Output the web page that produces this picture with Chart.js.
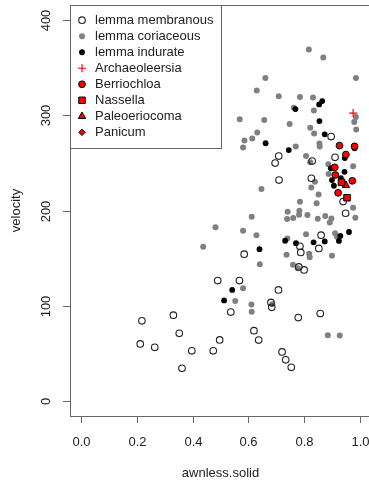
<!DOCTYPE html>
<html>
<head>
<meta charset="utf-8">
<script src="https://cdn.jsdelivr.net/npm/chart.js@4/dist/chart.umd.min.js"></script>
<style>
  html, body { margin: 0; padding: 0; background: #fff; overflow: hidden; }
  canvas { display: block; }
</style>
</head>
<body>
<canvas id="plot" width="369" height="487" style="width:369px;height:487px"></canvas>
<script>
// [awnless.solid, velocity] pairs per lemma type / genus
const membranous = [
  [0.897, 277.7], [0.709, 257.2], [0.911, 255.9], [0.829, 252.0], [0.696, 249.9],
  [0.710, 232.0], [0.826, 233.9], [0.940, 209.4], [0.949, 197.1], [0.861, 174.1],
  [0.785, 162.4], [0.853, 160.1], [0.788, 155.9], [0.585, 154.1], [0.781, 140.7],
  [0.800, 137.5], [0.490, 126.3], [0.568, 126.3], [0.708, 116.5], [0.681, 103.4],
  [0.684, 98.2], [0.537, 93.2], [0.331, 90.0], [0.218, 84.0], [0.779, 87.5],
  [0.858, 91.7], [0.352, 70.9], [0.620, 73.7], [0.212, 59.8], [0.264, 56.2],
  [0.497, 64.0], [0.637, 63.8], [0.397, 52.5], [0.474, 52.5], [0.721, 51.4],
  [0.734, 43.0], [0.754, 35.2], [0.362, 34.1]
];
const coriaceous = [
  [0.817, 369.3], [0.869, 360.9], [0.661, 339.4], [0.986, 339.4], [0.630, 326.2],
  [0.709, 320.2], [0.785, 319.2], [0.832, 318.8], [0.763, 308.1], [0.835, 305.2],
  [0.986, 298.2], [0.569, 295.9], [0.657, 295.0], [0.980, 292.9], [0.748, 290.8],
  [0.822, 287.1], [0.987, 285.2], [0.632, 281.9], [0.836, 281.0], [0.614, 275.8],
  [0.586, 273.5], [0.855, 270.3], [0.856, 267.2], [0.581, 266.1], [0.770, 267.4],
  [0.807, 257.2], [0.822, 250.6], [0.887, 248.6], [0.976, 246.5], [0.888, 238.3],
  [0.839, 230.2], [0.647, 222.6], [0.826, 224.1], [0.852, 216.8], [0.785, 209.1],
  [0.845, 207.6], [0.976, 202.8], [0.741, 198.7], [0.739, 191.1], [0.783, 199.8],
  [0.782, 195.6], [0.761, 192.1], [0.812, 195.3], [0.849, 191.3], [0.876, 194.2],
  [0.898, 191.6], [0.892, 187.4], [0.984, 192.4], [0.612, 193.5], [0.482, 182.5],
  [0.581, 178.7], [0.629, 174.1], [0.807, 175.0], [0.911, 176.1], [0.918, 172.5],
  [0.438, 162.0], [0.737, 153.6], [0.818, 154.6], [0.820, 150.9], [0.900, 152.4],
  [0.641, 143.6], [0.760, 143.1], [0.777, 139.3], [0.581, 118.4], [0.553, 104.8],
  [0.611, 101.1], [0.612, 93.6], [0.885, 69.0], [0.928, 68.5], [0.686, 101.5],
  [0.740, 170.6]
];
const indurate = [
  [0.865, 315.0], [0.854, 311.5], [0.769, 306.6], [0.855, 294.0], [0.874, 280.1],
  [0.662, 270.7], [0.745, 263.5], [0.981, 265.3], [0.946, 255.1], [0.896, 244.3],
  [0.945, 240.6], [0.932, 234.1], [0.900, 232.0], [0.907, 226.0], [0.961, 177.4],
  [0.930, 173.2], [0.925, 168.0], [0.732, 168.2], [0.771, 165.7], [0.834, 166.6],
  [0.874, 167.5], [0.640, 159.3], [0.542, 116.5], [0.513, 105.5]
];
const archaeoleersia = [[0.976, 302.4]];
const berriochloa = [
  [0.927, 268.2], [0.981, 267.4], [0.950, 258.8], [0.910, 245.4], [0.912, 237.3],
  [0.973, 231.2], [0.922, 218.6]
];
const nassella = [[0.934, 229.6], [0.954, 213.4]];
const paleoeriocoma = [[0.950, 226.5]];
const panicum = [];

const xTicks = [0, 0.2, 0.4, 0.6, 0.8, 1.0];
const xTickLabels = ['0.0', '0.2', '0.4', '0.6', '0.8', '1.0'];
const yTicks = [0, 100, 200, 300, 400];
const yTickLabels = ['0', '100', '200', '300', '400'];

// plotting region extends 4% past the 0..1 range, like R's default
const X_MIN = -0.04, X_MAX = 1.04;
const X_VISIBLE_MAX = 1.0293;   // what fits before the right edge of the canvas
const Y_MIN = -16, Y_MAX = 416;

const FONT = '13px "Liberation Sans", Arial, Helvetica, sans-serif';
const AXIS_COL = '#666';
const TEXT_COL = '#222';

function pts(arr) { return arr.map(p => ({ x: p[0], y: p[1] })); }

const datasets = [
  { label: 'Archaeoleersia', data: pts(archaeoleersia), order: 0,
    pointStyle: 'cross', pointRadius: 4, borderColor: '#ff0000', backgroundColor: '#ff0000', borderWidth: 1.2 },
  { label: 'Berriochloa', data: pts(berriochloa), order: 0,
    pointStyle: 'circle', pointRadius: 3.4, borderColor: '#000', backgroundColor: '#ff0000', borderWidth: 1 },
  { label: 'Nassella', data: pts(nassella), order: 0,
    pointStyle: 'rect', pointRadius: 4.6, borderColor: '#000', backgroundColor: '#ff0000', borderWidth: 1 },
  { label: 'Paleoeriocoma', data: pts(paleoeriocoma), order: 0,
    pointStyle: 'triangle', pointRadius: 4.3, borderColor: '#000', backgroundColor: '#ff0000', borderWidth: 1 },
  { label: 'Panicum', data: pts(panicum), order: 0,
    pointStyle: 'rectRot', pointRadius: 3.2, borderColor: '#000', backgroundColor: '#ff0000', borderWidth: 1 },
  { label: 'lemma membranous', data: pts(membranous), order: 1,
    pointStyle: 'circle', pointRadius: 3.3, borderColor: '#222', backgroundColor: 'rgba(0,0,0,0)', borderWidth: 1.1 },
  { label: 'lemma indurate', data: pts(indurate), order: 2,
    pointStyle: 'circle', pointRadius: 2.9, borderColor: '#000', backgroundColor: '#000', borderWidth: 0 },
  { label: 'lemma coriaceous', data: pts(coriaceous), order: 3,
    pointStyle: 'circle', pointRadius: 3, borderColor: '#808080', backgroundColor: '#808080', borderWidth: 0 }
];

// legend order as listed in the box
const legendOrder = ['lemma membranous', 'lemma coriaceous', 'lemma indurate',
  'Archaeoleersia', 'Berriochloa', 'Nassella', 'Paleoeriocoma', 'Panicum'];

// box, R-style axes, titles and legend
const baseGraphics = {
  id: 'baseGraphics',
  afterDraw(chart) {
    const ctx = chart.ctx;
    const area = chart.chartArea;
    const xs = chart.scales.x, ys = chart.scales.y;
    const boxRight = xs.getPixelForValue(X_MAX);
    ctx.save();
    ctx.strokeStyle = AXIS_COL;
    ctx.lineWidth = 1;
    ctx.strokeRect(area.left + 0.5, area.top + 0.5, boxRight - area.left, area.bottom - area.top);

    ctx.font = FONT;
    ctx.fillStyle = TEXT_COL;

    // x axis ticks + labels
    ctx.textAlign = 'center';
    ctx.textBaseline = 'middle';
    xTicks.forEach((v, i) => {
      const px = Math.round(xs.getPixelForValue(v)) + 0.5;
      ctx.beginPath();
      ctx.moveTo(px, area.bottom);
      ctx.lineTo(px, area.bottom + 7);
      ctx.stroke();
      ctx.fillText(xTickLabels[i], px, 442);
    });

    // y axis ticks + rotated labels
    yTicks.forEach((v, i) => {
      const py = Math.round(ys.getPixelForValue(v)) + 0.5;
      ctx.beginPath();
      ctx.moveTo(area.left - 7, py);
      ctx.lineTo(area.left, py);
      ctx.stroke();
      ctx.save();
      ctx.translate(46, py);
      ctx.rotate(-Math.PI / 2);
      ctx.fillText(yTickLabels[i], 0, 0);
      ctx.restore();
    });

    // axis titles, centred on the full plotting region
    const cx = (area.left + boxRight) / 2;
    const cy = (area.top + area.bottom) / 2;
    ctx.fillText('awnless.solid', cx, 473);
    ctx.save();
    ctx.translate(16, cy);
    ctx.rotate(-Math.PI / 2);
    ctx.fillText('velocity', 0, 0);
    ctx.restore();

    // legend
    const lx = area.left, ly = area.top, lw = 151, lh = 143;
    ctx.fillStyle = '#fff';
    ctx.fillRect(lx + 1, ly + 1, lw - 1, lh - 1);
    ctx.strokeStyle = AXIS_COL;
    ctx.strokeRect(lx + 0.5, ly + 0.5, lw, lh);
    legendOrder.forEach((name, i) => {
      const ds = chart.data.datasets.find(d => d.label === name);
      const y = 20.2 + i * 16.02;
      ctx.save();
      ctx.fillStyle = ds.backgroundColor;
      ctx.strokeStyle = ds.borderColor;
      ctx.lineWidth = ds.borderWidth;
      Chart.helpers.drawPoint(ctx, {
        pointStyle: ds.pointStyle,
        radius: ds.pointRadius,
        rotation: 0,
        borderWidth: ds.borderWidth
      }, 82, y);
      ctx.restore();
      ctx.fillStyle = TEXT_COL;
      ctx.font = FONT;
      ctx.textAlign = 'left';
      ctx.textBaseline = 'middle';
      ctx.fillText(name, 95, y);
    });
    ctx.restore();
  }
};

new Chart(document.getElementById('plot'), {
  type: 'scatter',
  data: { datasets },
  options: {
    responsive: false,
    animation: false,
    devicePixelRatio: 1,
    layout: { autoPadding: false, padding: { left: 70, top: 5, right: 1, bottom: 71 } },
    scales: {
      x: { type: 'linear', min: X_MIN, max: X_VISIBLE_MAX, display: false },
      y: { type: 'linear', min: Y_MIN, max: Y_MAX, display: false }
    },
    plugins: { legend: { display: false }, tooltip: { enabled: false } }
  },
  plugins: [baseGraphics]
});
</script>
</body>
</html>
